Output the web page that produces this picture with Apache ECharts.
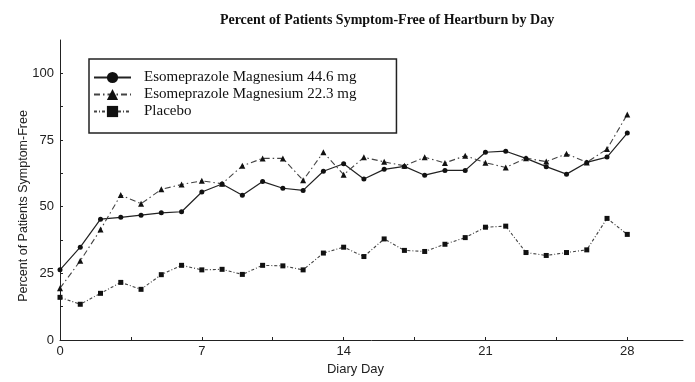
<!DOCTYPE html>
<html><head><meta charset="utf-8">
<script src="https://cdn.jsdelivr.net/npm/echarts@6/dist/echarts.min.js"></script>
<style>html,body{margin:0;padding:0;background:#fff}#c{width:695px;height:382px}</style>
</head><body><div id="c"></div>
<script>
const titleText = 'Percent of Patients Symptom-Free of Heartburn by Day';
const xName = 'Diary Day';
const yName = 'Percent of Patients Symptom-Free';
const days = [0,1,2,3,4,5,6,7,8,9,10,11,12,13,14,15,16,17,18,19,20,21,22,23,24,25,26,27,28];
const seriesNames = ['Esomeprazole Magnesium 44.6 mg','Esomeprazole Magnesium 22.3 mg','Placebo'];
const esome446 = [26.3,34.8,45.3,46.0,46.8,47.7,48.1,55.5,58.5,54.3,59.4,56.9,56.1,63.3,66.1,60.4,64.0,65.1,61.8,63.6,63.6,70.4,70.8,68.1,65.0,62.2,66.6,68.6,77.6];
const esome223 = [19.4,29.7,41.4,54.4,51.1,56.5,58.3,59.7,58.6,65.3,68.1,68.1,59.9,70.4,62.0,68.5,66.8,65.3,68.5,66.4,69.1,66.5,64.7,68.2,66.9,69.8,66.6,71.6,84.6];
const placebo = [16.0,13.4,17.5,21.6,19.0,24.5,28.0,26.3,26.5,24.6,28.0,27.8,26.3,32.6,34.8,31.3,37.9,33.6,33.2,35.9,38.4,42.3,42.7,32.8,31.7,32.8,33.8,45.6,39.6];
const xLabels = [0,7,14,21,28];
const yLabels = [0,25,50,75,100];

const chart = echarts.init(document.getElementById('c'), null, {renderer:'canvas'});
function pairs(arr){ return days.map((d,i)=>[d,arr[i]]); }
const axisColor = '#222';
chart.setOption({
  animation:false,
  backgroundColor:'#fff',
  title:{text:titleText,left:382,textAlign:'center',top:8,
    textStyle:{fontFamily:'Liberation Serif',fontWeight:'bold',fontSize:14,color:'#111'}},
  legend:{
    orient:'vertical',left:89,top:59,
    padding:[11,40,14,4],itemGap:2,itemWidth:37,itemHeight:14,
    borderColor:'#222',borderWidth:1.5,backgroundColor:'#fff',
    textStyle:{fontFamily:'Liberation Serif',fontSize:15,color:'#111',padding:[0,0,0,8]},
    data:seriesNames
  },
  grid:{left:60,right:12,top:40,bottom:42,containLabel:false},
  xAxis:{type:'value',min:0,max:30.75,interval:3.5,
    name:xName,nameLocation:'middle',nameGap:13,
    nameTextStyle:{fontFamily:'Liberation Sans',fontSize:13,color:'#222',padding:[0,32,0,0]},
    axisLine:{lineStyle:{color:axisColor,width:1}},
    axisTick:{inside:true,length:3,lineStyle:{color:axisColor}},
    axisLabel:{fontFamily:'Liberation Sans',fontSize:13,color:'#222',margin:5,showMaxLabel:false,
      formatter:v=>xLabels.includes(v)?String(v):''},
    splitLine:{show:false}},
  yAxis:{type:'value',min:0,max:112.5,interval:12.5,
    name:yName,nameLocation:'middle',nameGap:30,nameRotate:90,nameMoveOverlap:false,
    nameTextStyle:{fontFamily:'Liberation Sans',fontSize:12.5,color:'#222',padding:[0,32,0,0]},
    axisLine:{show:true,lineStyle:{color:axisColor,width:1}},
    axisTick:{show:true,inside:true,length:3,lineStyle:{color:axisColor}},
    axisLabel:{fontFamily:'Liberation Sans',fontSize:13,color:'#222',margin:6,showMaxLabel:false,
      formatter:v=>yLabels.includes(v)?String(v):''},
    splitLine:{show:false}},
  series:[
    {name:seriesNames[0],type:'line',data:pairs(esome446),symbol:'circle',symbolSize:5,
      lineStyle:{color:'#222',width:1.2,type:'solid'},itemStyle:{color:'#111'}},
    {name:seriesNames[1],type:'line',data:pairs(esome223),symbol:'triangle',symbolSize:6,
      lineStyle:{color:'#444',width:1.1,type:[6,3,1.5,3]},itemStyle:{color:'#111'}},
    {name:seriesNames[2],type:'line',data:pairs(placebo),symbol:'rect',symbolSize:5,
      lineStyle:{color:'#444',width:1.1,type:[3,2,1,2]},itemStyle:{color:'#111'}}
  ]
});
</script></body></html>
